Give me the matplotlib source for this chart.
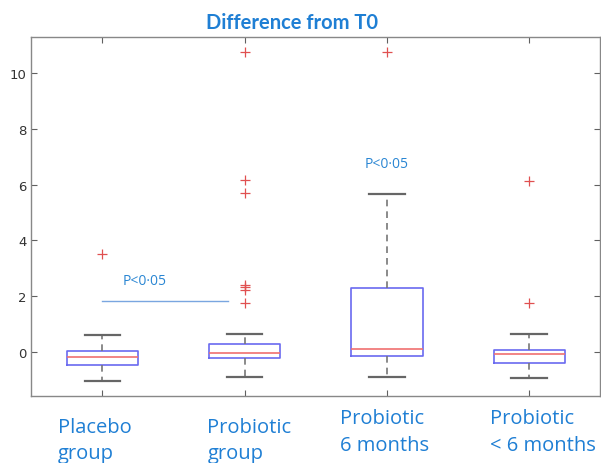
import matplotlib.pyplot as plt
import numpy as np

# group statistics (difference from T0)
groups = ["Placebo\ngroup", "Probiotic\ngroup", "Probiotic\n6 months", "Probiotic\n< 6 months"]
whislo = [-1.04, -0.90, -0.90, -0.93]
q1 = [-0.48, -0.22, -0.17, -0.40]
med = [-0.18, -0.04, 0.10, -0.10]
q3 = [0.02, 0.29, 2.30, 0.05]
whishi = [0.61, 0.65, 5.68, 0.65]
fliers = [
    [3.49],
    [10.75, 6.15, 5.70, 2.41, 2.33, 2.23, 1.73],
    [10.75],
    [6.12, 1.76],
]

# significance annotations: (x start, x end, y) and text positions
sig_line = (1.0, 1.88, 1.83)
sig_texts = [(1.3, 2.3), (3.0, 6.5)]

blue_txt = "#1f7fd4"

fig = plt.figure(figsize=(6.01, 4.64), dpi=100)
ax = fig.add_axes([0.052, 0.144, 0.947, 0.774])

stats = []
for i in range(len(groups)):
    stats.append(dict(whislo=whislo[i], q1=q1[i], med=med[i], q3=q3[i],
                      whishi=whishi[i], fliers=fliers[i]))

ax.bxp(stats, positions=range(1, 5), widths=0.5, showfliers=True,
       boxprops=dict(color="#6a6af0", lw=1.2),
       medianprops=dict(color="#f07070", lw=1.2),
       whiskerprops=dict(color="#777777", lw=1.2, ls=(0, (4, 3))),
       capprops=dict(color="#666666", lw=1.6),
       flierprops=dict(marker="+", markeredgecolor="#e05050", markersize=6.5,
                       markeredgewidth=0.9, linestyle="none"))

ax.set_xlim(0.5, 4.5)
ax.set_ylim(-1.6, 11.3)
ax.set_yticks([0, 2, 4, 6, 8, 10])
ax.set_xticks([1, 2, 3, 4])
ax.set_xticklabels([])
ax.tick_params(direction="in", top=True, right=True, length=4,
               color="#606060", labelsize=9.5, labelcolor="#333333")
for s in ax.spines.values():
    s.set_color("#888888")
    s.set_linewidth(1.0)

# significance marks
ax.plot(sig_line[:2], [sig_line[2]] * 2, color="#7aa6e0", lw=1.0)
for x, y in sig_texts:
    ax.text(x, y, "P<0\u00b705", color="#2a86d3", fontsize=10,
            family="Open Sans", ha="center", va="bottom")

fig.text(0.486, 0.95, "Difference from T0", color=blue_txt, fontsize=14.5,
         family="Lato", weight="bold", ha="center", va="center")

# category labels below the axis
label_pos = [(0.096, 0.1), (0.345, 0.1), (0.566, 0.118), (0.815, 0.118)]
for (x, y), g in zip(label_pos, groups):
    fig.text(x, y, g, color=blue_txt, fontsize=14.5, family="Open Sans",
             ha="left", va="top", linespacing=1.42)

fig.savefig("out.png", dpi=100)
